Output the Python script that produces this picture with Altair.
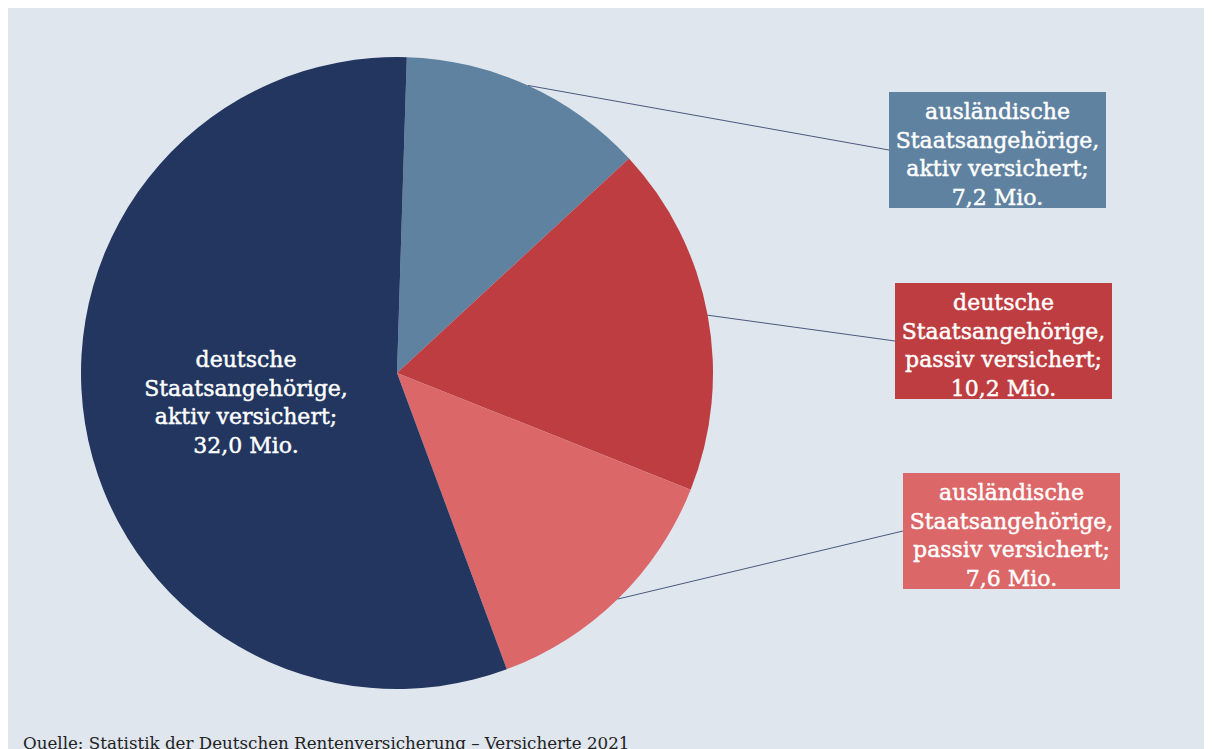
import math
import altair as alt
import pandas as pd

# ---- data ----
categories = [
    "ausländische Staatsangehörige, aktiv versichert",
    "deutsche Staatsangehörige, passiv versichert",
    "ausländische Staatsangehörige, passiv versichert",
    "deutsche Staatsangehörige, aktiv versichert",
]
values = [7.2, 10.2, 7.6, 32.0]
label_lines = [
    ["ausländische", "Staatsangehörige,", "aktiv versichert;", "7,2 Mio."],
    ["deutsche", "Staatsangehörige,", "passiv versichert;", "10,2 Mio."],
    ["ausländische", "Staatsangehörige,", "passiv versichert;", "7,6 Mio."],
    ["deutsche", "Staatsangehörige,", "aktiv versichert;", "32,0 Mio."],
]
colors = ["#5F82A1", "#BE3D41", "#DB6769", "#22365F"]
source = "Quelle: Statistik der Deutschen Rentenversicherung – Versicherte 2021"

# ---- layout (pixels, chart coordinates) ----
W, H = 1196, 760
CX, CY, R = 389, 365, 316
START = 0.031                     # start angle of first slice (rad)
BOX_W, BOX_H = 217, 116
box_left = [881, 887, 895, None]  # None -> label inside the slice
box_top = [84, 275, 465, None]
INNER_R = 153
FONT = "DejaVu Serif"
FS = 22
LH = 28.5
BG = "#DFE6EE"
LINE_COLOR = "#22365F"

total = sum(values)
rows = []
cum = 0.0
for i, (c, v, lines) in enumerate(zip(categories, values, label_lines)):
    mid = START + (cum + v / 2) / total * 2 * math.pi
    cum += v
    row = dict(idx=i, cat=c, value=v, text="\n".join(lines))
    row["ex"] = CX + R * math.sin(mid)
    row["ey"] = CY - R * math.cos(mid)
    if box_left[i] is not None:
        row["bx"] = box_left[i]
        row["bx2"] = box_left[i] + BOX_W
        row["by"] = box_top[i]
        row["by2"] = box_top[i] + BOX_H
        row["tx"] = box_left[i] + BOX_W / 2
        row["cy"] = box_top[i] + BOX_H / 2
        row["lx"] = box_left[i]
        row["outside"] = True
    else:
        row["tx"] = CX + INNER_R * math.sin(mid)
        row["cy"] = CY - INNER_R * math.cos(mid)
        row["outside"] = False
    n = len(lines)
    # baseline of the first line so that the block is centred on cy
    row["ty"] = row["cy"] - (n - 1) / 2 * LH + 0.55 * FS
    rows.append(row)
df = pd.DataFrame(rows)
outside = df[df["outside"]]

color_scale = alt.Scale(domain=categories, range=colors)

pie = alt.Chart(df).mark_arc(radius=R).encode(
    theta=alt.Theta("value:Q", stack=True,
                    scale=alt.Scale(range=[START, START + 2 * math.pi])),
    color=alt.Color("cat:N", scale=color_scale, legend=None),
    order=alt.Order("idx:Q", sort="ascending"),
    x=alt.value(CX),
    y=alt.value(CY),
)

leaders = alt.Chart(outside).mark_rule(color=LINE_COLOR, strokeWidth=0.8).encode(
    x=alt.X("ex:Q", scale=None, axis=None),
    y=alt.Y("ey:Q", scale=None, axis=None),
    x2="lx:Q",
    y2="cy:Q",
)

boxes = alt.Chart(outside).mark_rect().encode(
    x=alt.X("bx:Q", scale=None, axis=None),
    x2="bx2:Q",
    y=alt.Y("by:Q", scale=None, axis=None),
    y2="by2:Q",
    color=alt.Color("cat:N", scale=color_scale, legend=None),
)

labels = alt.Chart(df).mark_text(
    font=FONT, fontSize=FS, color="white", lineBreak="\n", lineHeight=LH,
    align="center", baseline="alphabetic", stroke="white", strokeWidth=0.45,
).encode(
    x=alt.X("tx:Q", scale=None, axis=None),
    y=alt.Y("ty:Q", scale=None, axis=None),
    text="text:N",
)

caption = alt.Chart(pd.DataFrame({"t": [source]})).mark_text(
    font=FONT, fontSize=16.7, color="#222222", align="left", baseline="alphabetic",
).encode(
    x=alt.value(15),
    y=alt.value(741),
    text="t:N",
)

chart = alt.layer(pie, leaders, boxes, labels, caption).properties(
    width=W, height=H, padding=0,
    autosize=alt.AutoSizeParams(type="none"),
).configure(background=BG).configure_view(stroke=None)

chart.save("out.html", embed_options={"renderer": "svg", "actions": False})
